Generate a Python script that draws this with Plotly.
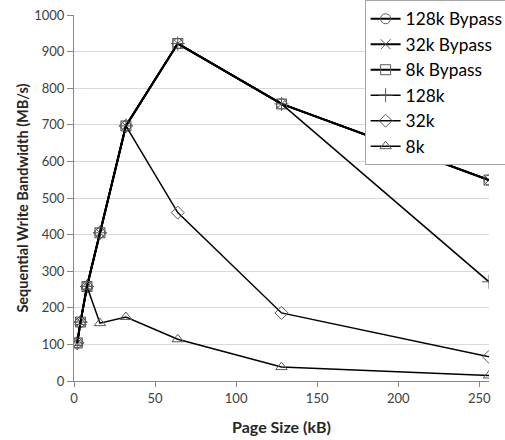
import plotly.graph_objects as go

page_size = [2, 4, 8, 16, 32, 64, 128, 256]
bw_128k_bypass = [104, 161, 258, 405, 697, 922, 757, 549]
bw_32k_bypass = [104, 161, 258, 405, 697, 922, 757, 549]
bw_8k_bypass = [104, 161, 258, 405, 697, 922, 757, 549]
bw_128k = [104, 161, 258, 405, 697, 922, 757, 271]
bw_32k = [104, 161, 258, 405, 697, 460, 186, 66]
bw_8k = [104, 161, 258, 158, 175, 114, 38, 15]

series = [
    ("128k Bypass", bw_128k_bypass, "circle-open", 2),
    ("32k Bypass", bw_32k_bypass, "x-thin-open", 2),
    ("8k Bypass", bw_8k_bypass, "square-open", 2),
    ("128k", bw_128k, "cross-thin-open", 1.5),
    ("32k", bw_32k, "diamond-open", 1.5),
    ("8k", bw_8k, "triangle-up-open", 1.5),
]

FONT = "Lato, 'Open Sans', sans-serif"
fig = go.Figure()
for name, vals, sym, lw in series:
    fig.add_trace(go.Scatter(
        x=page_size, y=vals, name=name, mode="lines+markers",
        line=dict(color="black", width=lw),
        marker=dict(symbol=sym, size=10, color="#595959",
                    line=dict(width=1, color="#595959")),
    ))

fig.update_layout(
    width=505, height=440,
    margin=dict(l=74, r=16, t=15, b=59, autoexpand=False),
    paper_bgcolor="white", plot_bgcolor="white",
    font=dict(family=FONT, size=13, color="#404040"),
    showlegend=True,
    legend=dict(
        xref="container", yref="container",
        x=0.722, y=1.012, xanchor="left", yanchor="top",
        bgcolor="white", bordercolor="#a6a6a6", borderwidth=1,
        font=dict(family=FONT, size=17.3, color="black"),
        itemwidth=30,
    ),
    xaxis=dict(
        range=[0, 256], tickmode="array", tickvals=[0, 50, 100, 150, 200, 250],
        showgrid=False, showline=True, linecolor="#868686", linewidth=1,
        ticks="outside", ticklen=5, tickcolor="#868686",
        tickfont=dict(size=13, color="#404040"),
        title=dict(text="<b>Page Size (kB)</b>", font=dict(size=16, color="#262626"), standoff=17),
        zeroline=False, ticklabeloverflow="allow",
    ),
    yaxis=dict(
        range=[0, 1000], dtick=100,
        showgrid=True, gridcolor="#d9d9d9", gridwidth=1,
        showline=True, linecolor="#868686", linewidth=1,
        ticks="outside", ticklen=6, tickcolor="#868686",
        tickfont=dict(size=13, color="#404040"),
        title=dict(text="<b>Sequential Write Bandwidth (MB/s)</b>", font=dict(size=14.5, color="#262626"), standoff=2),
        zeroline=False, ticklabeloverflow="allow",
    ),
)

fig.write_html("out.html", config={"displayModeBar": False},
               post_script="document.body.style.margin='0';")
